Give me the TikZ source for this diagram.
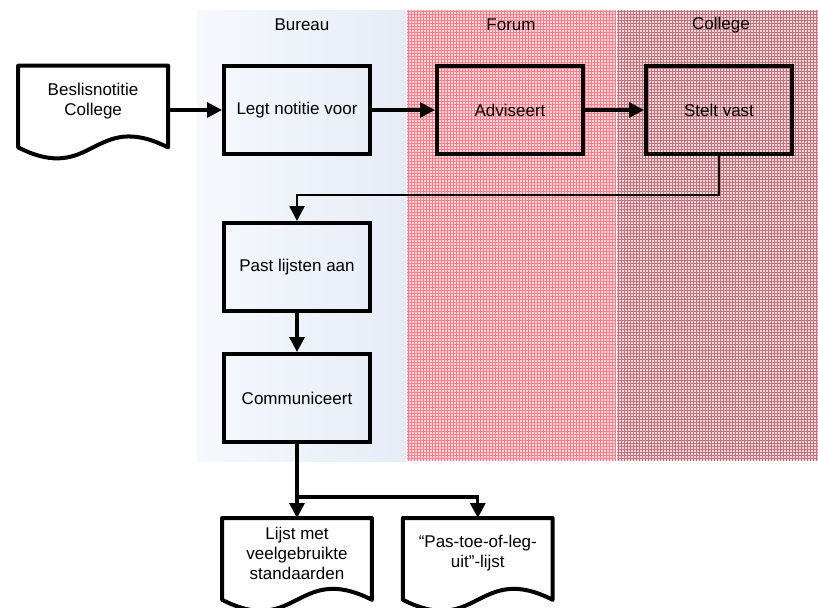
\documentclass[tikz,border=0pt]{standalone}
\usepackage{fontspec}
\setmainfont{Liberation Sans}
\usetikzlibrary{arrows.meta,positioning,calc}
\definecolor{bureaul}{RGB}{246,248,252}
\definecolor{bureaur}{RGB}{230,236,246}
\definecolor{forumbg}{RGB}{252,214,218}
\definecolor{forumln}{RGB}{246,128,138}
\definecolor{collegebg}{RGB}{238,214,217}
\definecolor{collegeln}{RGB}{192,116,128}
\tikzset{
  proc/.style={rectangle,draw=black,line width=2pt,minimum width=73pt,
               minimum height=44pt,align=center,font=\fontsize{8.5}{10}\selectfont},
  doc/.style={rectangle,minimum width=74.5pt,minimum height=35pt,align=center,
              font=\fontsize{8.5}{10}\selectfont},
  docline/.style={line width=2pt,line join=round},
  lanetitle/.style={font=\fontsize{8.5}{10}\selectfont},
  flow/.style={-{Triangle[length=7.5pt,width=7.5pt]},line width=1.6pt},
}

\begin{document}
\begin{tikzpicture}[x=0.5pt,y=-0.5pt,node distance=32.5pt and 31.5pt]
  \useasboundingbox (0,0) rectangle (818,607);
  % swimlanes
  \shade[left color=bureaul,right color=bureaur] (197,10) rectangle (406,461);
  \fill[forumbg] (407,10) rectangle (616,461);
  \fill[collegebg] (617,10) rectangle (818,461);
  \foreach \x in {408,411,...,615} \draw[forumln,line width=0.25pt] (\x,10) -- (\x,461);
  \foreach \y in {11,14,...,460} \draw[forumln,line width=0.25pt] (407,\y) -- (616,\y);
  \foreach \x in {618,621,...,817} \draw[collegeln,line width=0.25pt] (\x,10) -- (\x,461);
  \foreach \y in {11,14,...,460} \draw[collegeln,line width=0.25pt] (617,\y) -- (818,\y);
  \node[lanetitle] (tbureau) at (302,25) {Bureau};
  \node[lanetitle] (tforum) at (511,25) {Forum};
  \node[lanetitle] (tcollege) at (721,25) {College};

  % steps
  \node[proc] (legt) at (297,110) {Legt notitie voor};
  \node[doc,left=27pt of legt,yshift=4.5pt] (bes) {Beslisnotitie\\College};
  \node[proc,right=of legt] (advis) {Adviseert};
  \node[proc,right=29.5pt of advis] (stelt) {Stelt vast};
  \node[proc,below=of legt] (past) {Past lijsten aan};
  \node[proc,below=19.5pt of past] (comm) {Communiceert};
  \node[doc,below=37pt of comm] (lijst) {Lijst met\\veelgebruikte\\standaarden};
  \node[doc,right=15.5pt of lijst] (pas) {“Pas-toe-of-leg-\\uit”-lijst};

  % document outlines
  \foreach \n in {bes,lijst,pas}{
    \coordinate (a) at ($(\n.south west)+(0,-5.5pt)$);
    \coordinate (b) at ($(\n.south east)+(0,-5.5pt)$);
    \coordinate (m) at ($(a)!0.5!(b)$);
    \draw[docline] (a) -- (\n.north west) -- (\n.north east) -- (b)
      .. controls ($(m)+(0,19pt)$) and ($(m)+(0,-19pt)$) .. (a) -- cycle;
  }

  \coordinate (split) at ($(comm.south)+(0,-26.5pt)$);
  \draw[flow] (bes.east |- legt) -- (legt);
  \draw[flow] (legt) -- (advis);
  \draw[flow] (advis) -- (stelt);
  \draw[flow,line width=1.2pt] (stelt.south) -- ++(0,-19.5pt) -| (past.north);
  \draw[flow] (past) -- (comm);
  \draw[flow] (comm) -- (lijst);
  \draw[flow] (split) -| (pas.north);
\end{tikzpicture}
\end{document}
